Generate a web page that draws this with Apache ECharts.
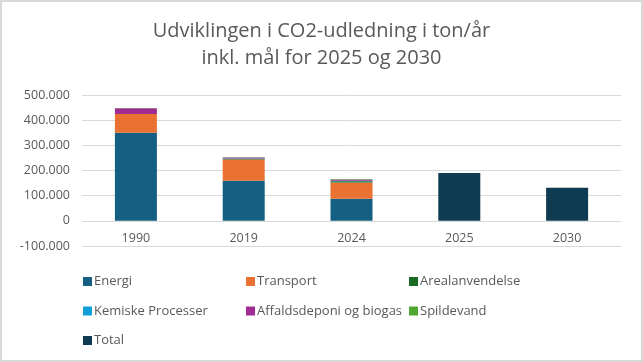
<!DOCTYPE html>
<html>
<head>
<meta charset="utf-8">
<script src="https://cdn.jsdelivr.net/npm/echarts@6/dist/echarts.min.js"></script>
<style>
html,body{margin:0;padding:0;background:#fff;}
#c{width:643px;height:362px;box-sizing:border-box;border:2px solid #d9d9d9;}
</style>
</head>
<body>
<div id="c"></div>
<script>
var categories = ['1990', '2019', '2024', '2025', '2030'];
var energi = [350000, 159000, 88000, null, null];
var transport = [75000, 85000, 64000, null, null];
var arealanvendelse = [0, 3000, 5000, null, null];
var kemiske = [0, 1000, 2000, null, null];
var affald = [22000, 4000, 5000, null, null];
var spildevand = [1000, 1000, 2000, null, null];
var total = [null, null, null, 190000, 131000];
var yTicks = [-100000, 0, 100000, 200000, 300000, 400000, 500000];

var font = '"Open Sans", "Noto Sans", sans-serif';
var colors = {
  'Energi': '#156082',
  'Transport': '#E97132',
  'Arealanvendelse': '#196B24',
  'Kemiske Processer': '#0F9ED5',
  'Affaldsdeponi og biogas': '#A02B93',
  'Spildevand': '#4EA72E',
  'Total': '#0E3B52'
};
function fmt(v){
  if (v === 0) return '0';
  var s = Math.abs(v).toString().replace(/\B(?=(\d{3})+(?!\d))/g, '.');
  return (v < 0 ? '-' : '') + s;
}
function bar(name, data){
  return {
    name: name, type: 'bar', stack: 'a', data: data, barWidth: 42,
    itemStyle: {color: colors[name]}
  };
}
var legendBase = {
  orient: 'vertical', itemWidth: 9, itemHeight: 9, itemGap: 16.5,
  icon: 'rect', height: 120, padding: 0,
  textStyle: {fontFamily: font, fontSize: 13, color: '#595959', padding: [0,0,0,-3]},
  selectedMode: false
};
var gridTop = 93, gridBottom = 114, chartH = 362;
var plotH = chartH - gridTop - gridBottom;
var zeroOffset = -plotH * (0 - yTicks[0]) / (yTicks[yTicks.length - 1] - yTicks[0]);
var chart = echarts.init(document.getElementById('c'));
chart.setOption({
  animation: false,
  title: {
    text: 'Udviklingen i CO2-udledning i ton/år\ninkl. mål for 2025 og 2030',
    left: 'center', top: 11,
    textStyle: {fontFamily: font, fontSize: 20, fontWeight: 'normal', color: '#595959', lineHeight: 27}
  },
  grid: {left: 80, right: 20, top: gridTop, bottom: gridBottom, containLabel: false},
  legend: [
    Object.assign({}, legendBase, {left: 81, top: 273, data: ['Energi', 'Kemiske Processer', 'Total']}),
    Object.assign({}, legendBase, {left: 244, top: 273, data: ['Transport', 'Affaldsdeponi og biogas']}),
    Object.assign({}, legendBase, {left: 407, top: 273, data: ['Arealanvendelse', 'Spildevand']})
  ],
  xAxis: {
    type: 'category', data: categories, offset: zeroOffset,
    axisLine: {show: false, onZero: false},
    axisTick: {show: false},
    axisLabel: {fontFamily: font, fontSize: 12.5, color: '#595959', margin: 12}
  },
  yAxis: {
    type: 'value', min: -100000, max: 500000, interval: 100000,
    axisLine: {show: false}, axisTick: {show: false},
    splitLine: {lineStyle: {color: '#d9d9d9', width: 1}},
    axisLabel: {fontFamily: font, fontSize: 12.5, color: '#595959', margin: 12, formatter: fmt}
  },
  series: [
    bar('Energi', energi),
    bar('Transport', transport),
    bar('Arealanvendelse', arealanvendelse),
    bar('Kemiske Processer', kemiske),
    bar('Affaldsdeponi og biogas', affald),
    bar('Spildevand', spildevand),
    bar('Total', total)
  ]
});
</script>
</body>
</html>
